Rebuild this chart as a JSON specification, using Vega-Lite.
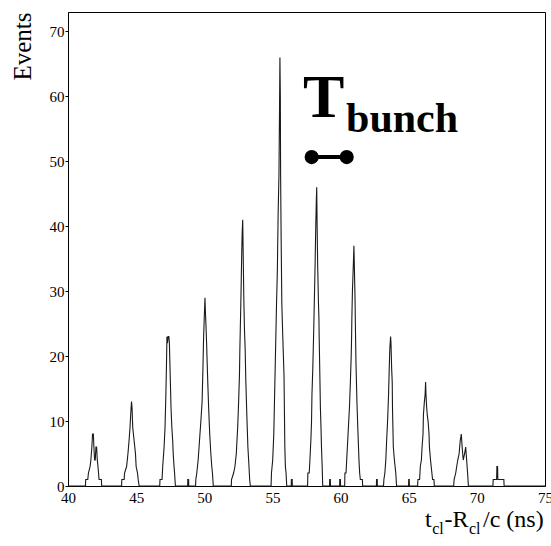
{
  "$schema": "https://vega.github.io/schema/vega-lite/v6.json",
  "width": 477,
  "height": 474,
  "autosize": "none",
  "padding": {"left": 68, "top": 12, "right": 6, "bottom": 60},
  "background": "white",
  "config": {
    "view": {"stroke": "black", "strokeWidth": 1},
    "font": "Liberation Serif",
    "axis": {"grid": false, "domainColor": "black", "tickColor": "black", "labelColor": "black", "titleColor": "black", "labelFont": "Liberation Serif", "titleFont": "Liberation Serif", "labelFontSize": 15, "titleFontWeight": "normal"}
  },
  "layer": [
    {
      "data": {"values": [
        {"t": 40.0, "n": 0},
        {"t": 41.28, "n": 0}, {"t": 41.3, "n": 1}, {"t": 41.45, "n": 1}, {"t": 41.5, "n": 2}, {"t": 41.62, "n": 3}, {"t": 41.68, "n": 4}, {"t": 41.75, "n": 6}, {"t": 41.8, "n": 8}, {"t": 41.86, "n": 8}, {"t": 41.9, "n": 6}, {"t": 41.95, "n": 4}, {"t": 42.0, "n": 4}, {"t": 42.05, "n": 6}, {"t": 42.1, "n": 6}, {"t": 42.15, "n": 4}, {"t": 42.2, "n": 3}, {"t": 42.28, "n": 1}, {"t": 42.45, "n": 1}, {"t": 42.47, "n": 0},
        {"t": 43.93, "n": 0}, {"t": 43.95, "n": 1}, {"t": 44.12, "n": 1}, {"t": 44.15, "n": 2}, {"t": 44.3, "n": 3}, {"t": 44.4, "n": 5}, {"t": 44.48, "n": 7}, {"t": 44.55, "n": 9}, {"t": 44.6, "n": 11}, {"t": 44.66, "n": 13}, {"t": 44.7, "n": 12}, {"t": 44.75, "n": 9}, {"t": 44.85, "n": 7}, {"t": 44.95, "n": 5}, {"t": 45.0, "n": 3}, {"t": 45.1, "n": 2}, {"t": 45.15, "n": 1}, {"t": 45.22, "n": 0},
        {"t": 46.73, "n": 0}, {"t": 46.75, "n": 1}, {"t": 46.9, "n": 1}, {"t": 46.95, "n": 3}, {"t": 47.05, "n": 6}, {"t": 47.12, "n": 9}, {"t": 47.18, "n": 14}, {"t": 47.22, "n": 18}, {"t": 47.26, "n": 23}, {"t": 47.3, "n": 22}, {"t": 47.34, "n": 23}, {"t": 47.4, "n": 23}, {"t": 47.44, "n": 22}, {"t": 47.5, "n": 17}, {"t": 47.56, "n": 12}, {"t": 47.62, "n": 9}, {"t": 47.68, "n": 7}, {"t": 47.72, "n": 5}, {"t": 47.78, "n": 3}, {"t": 47.82, "n": 2}, {"t": 47.88, "n": 0},
        {"t": 48.78, "n": 0}, {"t": 48.79, "n": 1}, {"t": 48.85, "n": 1}, {"t": 48.86, "n": 0},
        {"t": 49.36, "n": 0}, {"t": 49.38, "n": 1}, {"t": 49.45, "n": 2}, {"t": 49.55, "n": 4}, {"t": 49.65, "n": 7}, {"t": 49.75, "n": 10}, {"t": 49.84, "n": 13}, {"t": 49.9, "n": 18}, {"t": 49.95, "n": 23}, {"t": 50.0, "n": 26}, {"t": 50.05, "n": 29}, {"t": 50.08, "n": 27}, {"t": 50.12, "n": 25}, {"t": 50.17, "n": 22}, {"t": 50.24, "n": 17}, {"t": 50.32, "n": 12}, {"t": 50.4, "n": 8}, {"t": 50.48, "n": 5}, {"t": 50.55, "n": 3}, {"t": 50.6, "n": 2}, {"t": 50.66, "n": 0},
        {"t": 51.98, "n": 0}, {"t": 52.0, "n": 1}, {"t": 52.15, "n": 2}, {"t": 52.25, "n": 3}, {"t": 52.35, "n": 5}, {"t": 52.45, "n": 9}, {"t": 52.52, "n": 13}, {"t": 52.58, "n": 17}, {"t": 52.61, "n": 21}, {"t": 52.64, "n": 24}, {"t": 52.69, "n": 29}, {"t": 52.74, "n": 35}, {"t": 52.78, "n": 39}, {"t": 52.82, "n": 41}, {"t": 52.86, "n": 35}, {"t": 52.9, "n": 29}, {"t": 52.95, "n": 24}, {"t": 53.0, "n": 21}, {"t": 53.05, "n": 16}, {"t": 53.12, "n": 11}, {"t": 53.2, "n": 6}, {"t": 53.28, "n": 3}, {"t": 53.33, "n": 1}, {"t": 53.38, "n": 0},
        {"t": 54.9, "n": 0}, {"t": 54.93, "n": 2}, {"t": 55.02, "n": 4}, {"t": 55.1, "n": 8}, {"t": 55.14, "n": 12}, {"t": 55.22, "n": 20}, {"t": 55.3, "n": 28}, {"t": 55.36, "n": 33}, {"t": 55.42, "n": 42}, {"t": 55.48, "n": 48}, {"t": 55.52, "n": 58}, {"t": 55.55, "n": 66}, {"t": 55.58, "n": 60}, {"t": 55.6, "n": 48}, {"t": 55.64, "n": 38}, {"t": 55.67, "n": 32}, {"t": 55.69, "n": 28}, {"t": 55.76, "n": 23}, {"t": 55.85, "n": 17}, {"t": 55.91, "n": 6}, {"t": 55.95, "n": 3}, {"t": 56.0, "n": 2}, {"t": 56.05, "n": 0},
        {"t": 56.38, "n": 0}, {"t": 56.39, "n": 1}, {"t": 56.45, "n": 1}, {"t": 56.46, "n": 0},
        {"t": 57.58, "n": 0}, {"t": 57.6, "n": 2}, {"t": 57.7, "n": 2}, {"t": 57.75, "n": 4}, {"t": 57.82, "n": 7}, {"t": 57.87, "n": 10}, {"t": 57.9, "n": 14}, {"t": 57.96, "n": 18}, {"t": 58.03, "n": 24}, {"t": 58.08, "n": 29}, {"t": 58.13, "n": 34}, {"t": 58.18, "n": 40}, {"t": 58.22, "n": 44}, {"t": 58.25, "n": 46}, {"t": 58.28, "n": 40}, {"t": 58.32, "n": 34}, {"t": 58.38, "n": 28}, {"t": 58.41, "n": 26}, {"t": 58.43, "n": 23}, {"t": 58.48, "n": 17}, {"t": 58.52, "n": 12}, {"t": 58.55, "n": 10}, {"t": 58.6, "n": 6}, {"t": 58.65, "n": 3}, {"t": 58.69, "n": 0},
        {"t": 59.19, "n": 0}, {"t": 59.2, "n": 1}, {"t": 59.25, "n": 1}, {"t": 59.26, "n": 0},
        {"t": 59.93, "n": 0}, {"t": 59.94, "n": 1}, {"t": 59.99, "n": 1}, {"t": 60.0, "n": 0},
        {"t": 60.3, "n": 0}, {"t": 60.32, "n": 2}, {"t": 60.4, "n": 2}, {"t": 60.45, "n": 4}, {"t": 60.55, "n": 8}, {"t": 60.65, "n": 12}, {"t": 60.72, "n": 16}, {"t": 60.78, "n": 20}, {"t": 60.81, "n": 23}, {"t": 60.83, "n": 26}, {"t": 60.87, "n": 30}, {"t": 60.92, "n": 33}, {"t": 60.95, "n": 35}, {"t": 60.98, "n": 37}, {"t": 61.02, "n": 33}, {"t": 61.06, "n": 29}, {"t": 61.1, "n": 23}, {"t": 61.13, "n": 19}, {"t": 61.2, "n": 13}, {"t": 61.28, "n": 8}, {"t": 61.35, "n": 4}, {"t": 61.4, "n": 2}, {"t": 61.45, "n": 1}, {"t": 61.6, "n": 1}, {"t": 61.62, "n": 0},
        {"t": 62.63, "n": 0}, {"t": 62.64, "n": 1}, {"t": 62.69, "n": 1}, {"t": 62.7, "n": 0},
        {"t": 63.15, "n": 0}, {"t": 63.18, "n": 1}, {"t": 63.25, "n": 2}, {"t": 63.32, "n": 4}, {"t": 63.38, "n": 7}, {"t": 63.45, "n": 10}, {"t": 63.52, "n": 14}, {"t": 63.57, "n": 18}, {"t": 63.61, "n": 21}, {"t": 63.67, "n": 23}, {"t": 63.7, "n": 22}, {"t": 63.75, "n": 18}, {"t": 63.79, "n": 16}, {"t": 63.81, "n": 12}, {"t": 63.87, "n": 6}, {"t": 63.95, "n": 4}, {"t": 64.05, "n": 2}, {"t": 64.11, "n": 0},
        {"t": 64.99, "n": 0}, {"t": 65.0, "n": 1}, {"t": 65.04, "n": 1}, {"t": 65.05, "n": 0},
        {"t": 65.65, "n": 0}, {"t": 65.68, "n": 1}, {"t": 65.8, "n": 1}, {"t": 65.85, "n": 3}, {"t": 65.93, "n": 4}, {"t": 65.98, "n": 6}, {"t": 66.05, "n": 8}, {"t": 66.08, "n": 11}, {"t": 66.15, "n": 13}, {"t": 66.2, "n": 14}, {"t": 66.24, "n": 16}, {"t": 66.27, "n": 14}, {"t": 66.32, "n": 12}, {"t": 66.36, "n": 11}, {"t": 66.42, "n": 10}, {"t": 66.49, "n": 8}, {"t": 66.52, "n": 6}, {"t": 66.6, "n": 4}, {"t": 66.7, "n": 2}, {"t": 66.75, "n": 1}, {"t": 66.85, "n": 1}, {"t": 66.88, "n": 0},
        {"t": 68.3, "n": 0}, {"t": 68.33, "n": 1}, {"t": 68.45, "n": 2}, {"t": 68.52, "n": 3}, {"t": 68.6, "n": 4}, {"t": 68.7, "n": 5}, {"t": 68.78, "n": 7}, {"t": 68.86, "n": 8}, {"t": 68.92, "n": 6}, {"t": 69.0, "n": 4}, {"t": 69.1, "n": 5}, {"t": 69.18, "n": 6}, {"t": 69.25, "n": 4}, {"t": 69.32, "n": 2}, {"t": 69.38, "n": 0},
        {"t": 71.18, "n": 0}, {"t": 71.2, "n": 1}, {"t": 71.45, "n": 1}, {"t": 71.47, "n": 3}, {"t": 71.52, "n": 3}, {"t": 71.54, "n": 1}, {"t": 71.98, "n": 1}, {"t": 72.0, "n": 0},
        {"t": 75.0, "n": 0}
      ]},
      "mark": {"type": "line", "color": "#1a1a1a", "strokeWidth": 1.1, "interpolate": "linear"},
      "encoding": {
        "x": {"field": "t", "type": "quantitative", "scale": {"domain": [40, 75], "nice": false, "zero": false},
          "axis": {"title": null, "values": [40, 45, 50, 55, 60, 65, 70, 75], "ticks": false, "labelPadding": 4, "labelFlush": false}},
        "y": {"field": "n", "type": "quantitative", "scale": {"domain": [0, 73], "nice": false},
          "axis": {"title": "Events", "values": [0, 10, 20, 30, 40, 50, 60, 70], "tickSize": 3, "labelPadding": 1, "titleFontSize": 25, "titleAnchor": "end", "titlePadding": 14}}
      }
    },
    {
      "data": {"values": [{}]},
      "mark": {"type": "text", "text": "T", "font": "Liberation Serif", "fontWeight": "bold", "fontSize": 62, "align": "left", "baseline": "alphabetic", "color": "black"},
      "encoding": {
        "x": {"datum": 57.24, "type": "quantitative", "scale": {"domain": [40, 75], "nice": false, "zero": false}},
        "y": {"datum": 56.9, "type": "quantitative", "scale": {"domain": [0, 73], "nice": false}}
      }
    },
    {
      "data": {"values": [{}]},
      "mark": {"type": "text", "text": "bunch", "font": "Liberation Serif", "fontWeight": "bold", "fontSize": 42, "align": "left", "baseline": "alphabetic", "color": "black"},
      "encoding": {
        "x": {"datum": 60.4, "type": "quantitative", "scale": {"domain": [40, 75], "nice": false, "zero": false}},
        "y": {"datum": 54.46, "type": "quantitative", "scale": {"domain": [0, 73], "nice": false}}
      }
    },
    {
      "data": {"values": [{}]},
      "mark": {"type": "rule", "color": "black", "strokeWidth": 4},
      "encoding": {
        "x": {"datum": 57.88, "type": "quantitative", "scale": {"domain": [40, 75], "nice": false, "zero": false}},
        "x2": {"datum": 60.45},
        "y": {"datum": 50.66, "type": "quantitative", "scale": {"domain": [0, 73], "nice": false}}
      }
    },
    {
      "data": {"values": [{}]},
      "mark": {"type": "point", "shape": "circle", "filled": true, "opacity": 1, "color": "black", "size": 200},
      "encoding": {
        "x": {"datum": 57.88, "type": "quantitative", "scale": {"domain": [40, 75], "nice": false, "zero": false}},
        "y": {"datum": 50.66, "type": "quantitative", "scale": {"domain": [0, 73], "nice": false}}
      }
    },
    {
      "data": {"values": [{}]},
      "mark": {"type": "point", "shape": "circle", "filled": true, "opacity": 1, "color": "black", "size": 200},
      "encoding": {
        "x": {"datum": 60.45, "type": "quantitative", "scale": {"domain": [40, 75], "nice": false, "zero": false}},
        "y": {"datum": 50.66, "type": "quantitative", "scale": {"domain": [0, 73], "nice": false}}
      }
    },
    {
      "data": {"values": [{}]},
      "mark": {"type": "text", "text": "t", "font": "Liberation Serif", "fontSize": 24, "align": "left", "baseline": "alphabetic", "color": "black"},
      "encoding": {
        "x": {"datum": 66.19, "type": "quantitative", "scale": {"domain": [40, 75], "nice": false, "zero": false}},
        "y": {"datum": -6.26, "type": "quantitative", "scale": {"domain": [0, 73], "nice": false}}
      }
    },
    {
      "data": {"values": [{}]},
      "mark": {"type": "text", "text": "cl", "font": "Liberation Serif", "fontSize": 16, "align": "left", "baseline": "alphabetic", "color": "black"},
      "encoding": {
        "x": {"datum": 66.72, "type": "quantitative", "scale": {"domain": [40, 75], "nice": false, "zero": false}},
        "y": {"datum": -7.43, "type": "quantitative", "scale": {"domain": [0, 73], "nice": false}}
      }
    },
    {
      "data": {"values": [{}]},
      "mark": {"type": "text", "text": "-R", "font": "Liberation Serif", "fontSize": 24, "align": "left", "baseline": "alphabetic", "color": "black"},
      "encoding": {
        "x": {"datum": 67.62, "type": "quantitative", "scale": {"domain": [40, 75], "nice": false, "zero": false}},
        "y": {"datum": -6.26, "type": "quantitative", "scale": {"domain": [0, 73], "nice": false}}
      }
    },
    {
      "data": {"values": [{}]},
      "mark": {"type": "text", "text": "cl", "font": "Liberation Serif", "fontSize": 16, "align": "left", "baseline": "alphabetic", "color": "black"},
      "encoding": {
        "x": {"datum": 69.42, "type": "quantitative", "scale": {"domain": [40, 75], "nice": false, "zero": false}},
        "y": {"datum": -7.43, "type": "quantitative", "scale": {"domain": [0, 73], "nice": false}}
      }
    },
    {
      "data": {"values": [{}]},
      "mark": {"type": "text", "text": "/c (ns)", "font": "Liberation Serif", "fontSize": 24, "align": "left", "baseline": "alphabetic", "color": "black"},
      "encoding": {
        "x": {"datum": 70.45, "type": "quantitative", "scale": {"domain": [40, 75], "nice": false, "zero": false}},
        "y": {"datum": -6.26, "type": "quantitative", "scale": {"domain": [0, 73], "nice": false}}
      }
    }
  ]
}
